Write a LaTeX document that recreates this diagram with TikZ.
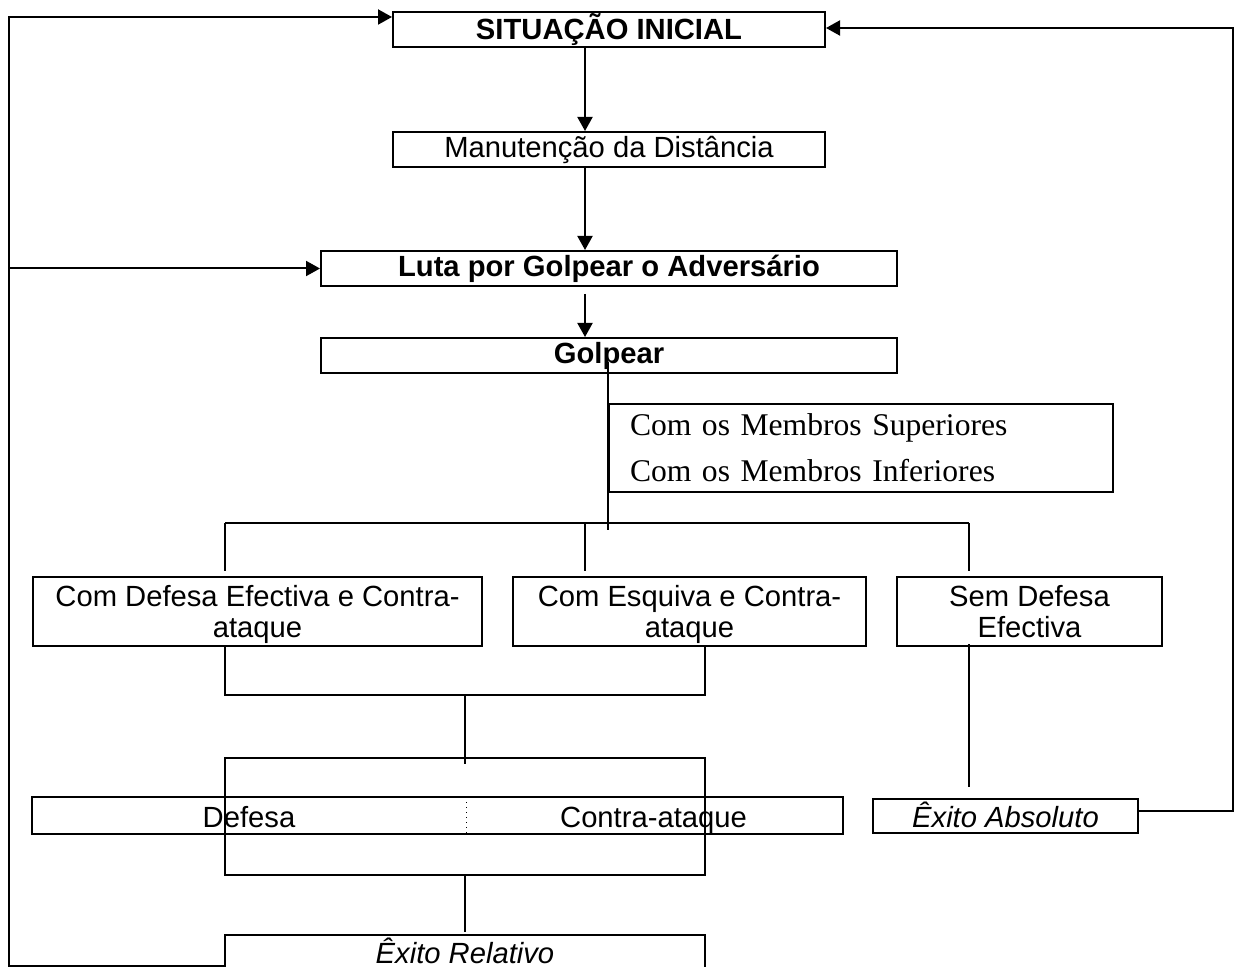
\documentclass[tikz,border=0pt]{standalone}
\usepackage{fontspec}
\setmainfont{Liberation Sans}
\newfontfamily\timesfont{Liberation Serif}
\usepackage{tikz}
\usetikzlibrary{arrows.meta}

\begin{document}
\begin{tikzpicture}[x=0.5pt,y=-0.5pt,>={Triangle[length=7pt,width=7.5pt]},
                    line width=1pt]
\tikzset{font=\fontsize{14.6pt}{15.5pt}\selectfont}
\tikzset{box/.style={draw=black,line width=1pt,inner sep=0pt,align=center}}
\tikzset{link/.style={line width=0.7pt}}

\useasboundingbox (0,0) rectangle (1235,967);

        \node[box,minimum width=216pt,minimum height=17.5pt]                      (S)  at (609,29.5)          {\textbf{SITUAÇÃO INICIAL}};
        \node[box,minimum width=216pt,minimum height=17.5pt, node distance=60pt]  (M)  [below of=S]           {Manutenção da Distância};
        \node[box,minimum width=288pt,minimum height=17.5pt, node distance=59.5pt] (L) [below of=M]           {\textbf{Luta por Golpear o Adversário}};
        \node[box,minimum width=288pt,minimum height=17.5pt, node distance=43.5pt] (G) [below of=L]           {\textbf{Golpear}};

        \node[box,line width=0.8pt,minimum width=252pt,minimum height=44pt,inner xsep=10.5pt,text width=231pt,align=left,
              font=\timesfont\fontsize{15.8pt}{23pt}\selectfont]             (MS) at (861,448)          {Com os Membros Superiores\\Com os Membros Inferiores};

        \node[box,minimum width=224.5pt,minimum height=34.5pt,text depth=-1pt]    (DE) at (257.5,611.5)      {Com Defesa Efectiva e Contra-\\ataque};
        \node[box,minimum width=176.5pt,minimum height=34.5pt,text depth=-1pt]    (EQ) at (689.5,611.5)      {Com Esquiva e Contra-\\ataque};
        \node[box,minimum width=132.5pt,minimum height=34.5pt,text depth=0pt]     (SD) at (1029.5,611.5)     {Sem Defesa\\Efectiva};

        \node[inner sep=0pt,minimum width=216pt,minimum height=17.5pt,text height=12.5pt,text depth=1pt]   (D)  at (249,815.5)   {Defesa};
        \node[inner sep=0pt,minimum width=188.5pt,minimum height=17.5pt,text height=12.5pt,text depth=1pt] (CA) at (653.5,815.5) {Contra-ataque};
        \node[box,minimum width=132.5pt,minimum height=17pt,text height=12.5pt,text depth=1pt]           (EA) at (1005.5,816)  {\itshape Êxito Absoluto};
        \node[box,minimum width=240pt,minimum height=20pt,text height=11.5pt,text depth=3.5pt]           (ER) at (465,955)     {\itshape Êxito Relativo};

        \draw (D.north west) rectangle (CA.south east);
        \draw[dotted,line width=0.5pt] (D.north east) -- (D.south east);

        \coordinate (lb) at (9,966);
        \coordinate (lt) at (9,17);
        \coordinate (rb) at (1233,811);
        \coordinate (rt) at (1233,28);
        \coordinate (ax) at (585,0);
        \coordinate (gx) at (608,362);

        \draw[->] (ER.west |- lb) -- (lb) -- (lt) -- (lt -| S.west);
        \draw[->] (lt |- L.west) -- (L.west);
        \draw[->] (EA.east |- rb) -- (rb) -- (rt) -- (rt -| S.east);

        \draw[->] (S.south -| ax) -- (M.north -| ax);
        \draw[->] (M.south -| ax) -- (L.north -| ax);
        \draw[->,shorten <=3.5pt] (L.south -| ax) -- (G.north -| ax);

        \draw[link] (gx) -- ++(0,168);

        \coordinate (t1) at (225,523);
        \coordinate (t2) at (585,523);
        \coordinate (t3) at (969,523);
        \draw[link] (t1) -- (t3);
        \draw[link,shorten >=2.5pt] (t1) -- (t1 |- DE.north);
        \draw[link,shorten >=2.5pt] (t2) -- (t2 |- EQ.north);
        \draw[link,shorten >=2.5pt] (t3) -- (t3 |- SD.north);

        \coordinate (u1) at (225,695);
        \coordinate (u2) at (705,695);
        \coordinate (u3) at (465,695);
        \draw[link] (u1 |- DE.south) -- (u1) -- (u2) -- (u2 |- EQ.south);
        \draw[link] (u3) -- ++(0,69);

        \coordinate (v1) at (225,758);
        \coordinate (v2) at (705,875);
        \draw[link] (v1) rectangle (v2);
        \draw[link,shorten >=1pt] (v2 -| u3) -- (ER.north -| u3);

        \draw[link] ([yshift=1.5pt]SD.south -| t3) -- ([yshift=5.5pt]EA.north -| t3);
        %end path

\end{tikzpicture}
\end{document}
